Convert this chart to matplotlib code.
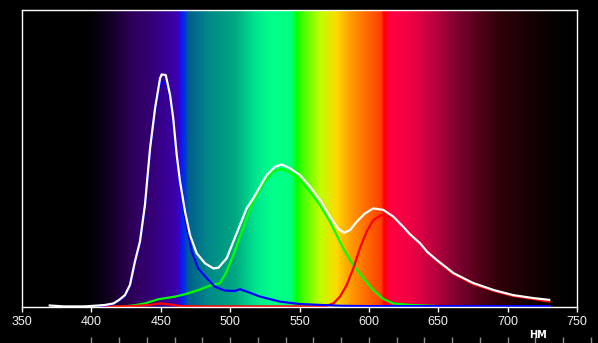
import numpy as np
import matplotlib
matplotlib.use("Agg")
import matplotlib.pyplot as plt
from matplotlib.colors import LinearSegmentedColormap

# ---- data (relative intensity, 0..100 = axis top) ----
white_nm = [370, 380, 395, 405, 410, 416, 420, 424.2, 427.8, 431.4, 435, 438.6, 442.3,
            445.9, 449.5, 450.7, 453.6, 456.7, 459, 461.5, 463.9, 467.5, 471.1, 475.9,
            481.9, 487.9, 491.5, 497.5, 502.3, 507.1, 511.9, 516.7, 521.5, 526.3, 532.3,
            537.1, 543.1, 550.4, 557.6, 564.8, 572, 578, 582.1, 586.4, 591.2, 597.2,
            603.2, 610.4, 617.6, 624.8, 629.6, 636.8, 642, 649, 661, 675, 690, 704,
            718.5, 730]
white_val = [0.5, 0.2, 0.2, 0.5, 0.7, 1.2, 2.4, 4.0, 7.4, 15.3, 22.0, 34.3, 53.4,
             66.9, 77.0, 78.3, 78.1, 71.4, 63.5, 51.2, 42.2, 32.1, 24.2, 18.1,
             14.7, 13.0, 13.2, 16.4, 22.0, 27.6, 33.2, 36.6, 40.5, 44.4, 47.2,
             48.0, 46.7, 44.4, 40.5, 36.0, 30.4, 26.3, 25.0, 25.9, 28.7, 31.5,
             33.2, 32.7, 30.4, 27.0, 24.5, 21.5, 18.6, 15.8, 11.4, 8.1, 5.7, 4.0,
             3.0, 2.4]

blue_nm = [405, 416, 424.2, 427.8, 431.4, 435, 438.6, 442.3, 445.9, 449.5, 451.9, 454,
           456.7, 459, 461.5, 463.9, 467.5, 472.3, 477, 483.1, 489.1, 496.3, 503.5,
           507.1, 511.9, 521.5, 536, 550, 565, 580, 600, 650, 700, 730]
blue_val = [0.2, 1.0, 3.6, 7.0, 14.8, 21.4, 33.5, 52.5, 66.0, 75.0, 75.9, 75.0,
            70.0, 62.0, 49.7, 40.7, 30.0, 18.6, 13.0, 9.7, 6.8, 5.5, 5.4,
            6.0, 5.2, 3.5, 1.8, 1.0, 0.7, 0.4, 0.3, 0.3, 0.3, 0.3]

green_nm = [405, 420.6, 430, 438.6, 448.2, 460.3, 467.5, 477, 486.7, 492.7, 497.5, 502.3,
            507.1, 511.9, 516.7, 523.9, 531.1, 537.1, 543.1, 550.4, 557.6, 564.8, 572,
            576.8, 582.8, 588.8, 596, 603.2, 610.4, 617.6, 629.6, 650, 730]
green_val = [0.1, 0.1, 0.5, 1.2, 2.6, 3.5, 4.3, 5.7, 7.4, 8.0, 11.9, 17.5,
             23.7, 29.9, 35.5, 41.6, 45.6, 46.5, 45.4, 42.8, 38.8, 34.3, 28.7,
             24.2, 18.6, 14.1, 9.7, 5.7, 2.7, 1.2, 0.7, 0.3, 0.2]

red_nm = [405, 430, 442, 449.5, 458, 464, 480, 565, 570, 574.4, 579.2, 584, 588.8, 593.6,
          598.4, 603.2, 609.2, 615.2, 622.4, 629.6, 637, 649, 661, 675, 690, 704,
          718.5, 730]
red_val = [0.1, 0.3, 0.7, 1.2, 0.8, 0.3, 0.2, 0.2, 0.5, 1.2, 3.5, 7.4, 13.0, 19.8,
           25.4, 29.3, 31.0, 30.4, 28.2, 24.8, 21.2, 15.5, 11.1, 7.7, 5.4, 3.7,
           2.7, 1.8]

tick_values = [350, 400, 450, 500, 550, 600, 650, 700, 750]
ruler_ticks = list(range(400, 761, 20))
unit_label = "НМ"

# spectrum background stops (nm, colour)
spec_nm = [350, 398, 412, 429, 445, 460, 463.5, 465, 467, 470, 485, 503, 518, 530, 544,
           548, 552, 565, 577, 586, 601, 609, 611, 614, 618, 630, 646, 663, 680, 694,
           714, 733, 745, 750]
spec_col = ["#000000", "#000000", "#100020", "#2e0058", "#36007a", "#3a00a8", "#3c00c8",
            "#0020ff", "#0030e0", "#00608f", "#008a88", "#00a682", "#00e48e", "#00ff8c",
            "#00ff80", "#00ff00", "#40ff00", "#c0ff00", "#ffd800", "#ffa000", "#ff6000",
            "#ff4000", "#ff0000", "#ff0030", "#ff0044", "#f00044", "#c00040", "#800030",
            "#500018", "#300008", "#180004", "#080000", "#000000", "#000000"]

W, H = 598, 343
fig = plt.figure(figsize=(W / 100, H / 100), dpi=100, facecolor="black")
ax = fig.add_axes([22 / W, (H - 307) / H, (577 - 22) / W, (307 - 10) / H])
ax.set_facecolor("black")

x0, x1 = tick_values[0], tick_values[-1]
pos = [(v - x0) / (x1 - x0) for v in spec_nm]
cmap = LinearSegmentedColormap.from_list("spec", list(zip(pos, spec_col)), N=1024)
grad = np.linspace(0, 1, 1200).reshape(1, -1)
ax.imshow(grad, cmap=cmap, extent=[x0, x1, 0, 100], aspect="auto",
          interpolation="bilinear", zorder=0)

lw = 1.6
ax.plot(green_nm, green_val, color="#00ff00", lw=lw, zorder=2, solid_joinstyle="round")
ax.plot(red_nm, red_val, color="#ff0000", lw=lw, zorder=3, solid_joinstyle="round")
ax.plot(blue_nm, blue_val, color="#0000ff", lw=lw, zorder=4, solid_joinstyle="round")
ax.plot(white_nm, white_val, color="#ffffff", lw=lw, zorder=5, solid_joinstyle="round")

ax.set_xlim(x0, x1)
ax.set_ylim(0, 100)
ax.set_xticks(tick_values)
ax.set_yticks([])
for s in ax.spines.values():
    s.set_color("white")
    s.set_linewidth(1)
    s.set_zorder(6)
ax.tick_params(axis="x", direction="out", length=3.5, width=1, color="white",
               labelcolor="#f2f2f2", labelsize=9, pad=3)
for lab in ax.get_xticklabels():
    lab.set_fontfamily("Liberation Sans")

# bottom ruler strip
ax2 = fig.add_axes([22 / W, 0, (577 - 22) / W, 6 / H])
ax2.set_facecolor("black")
ax2.set_xlim(x0, x1)
ax2.set_ylim(0, 1)
ax2.vlines(ruler_ticks, 0, 1, colors="#8c8c8c", lw=1, clip_on=False)
ax2.axis("off")

fig.text(538.5 / W, (H - 335.5) / H, unit_label, color="white", fontsize=7,
         fontweight="bold", family="DejaVu Sans", ha="center", va="center")

fig.savefig("out.png", dpi=100, facecolor="black")
